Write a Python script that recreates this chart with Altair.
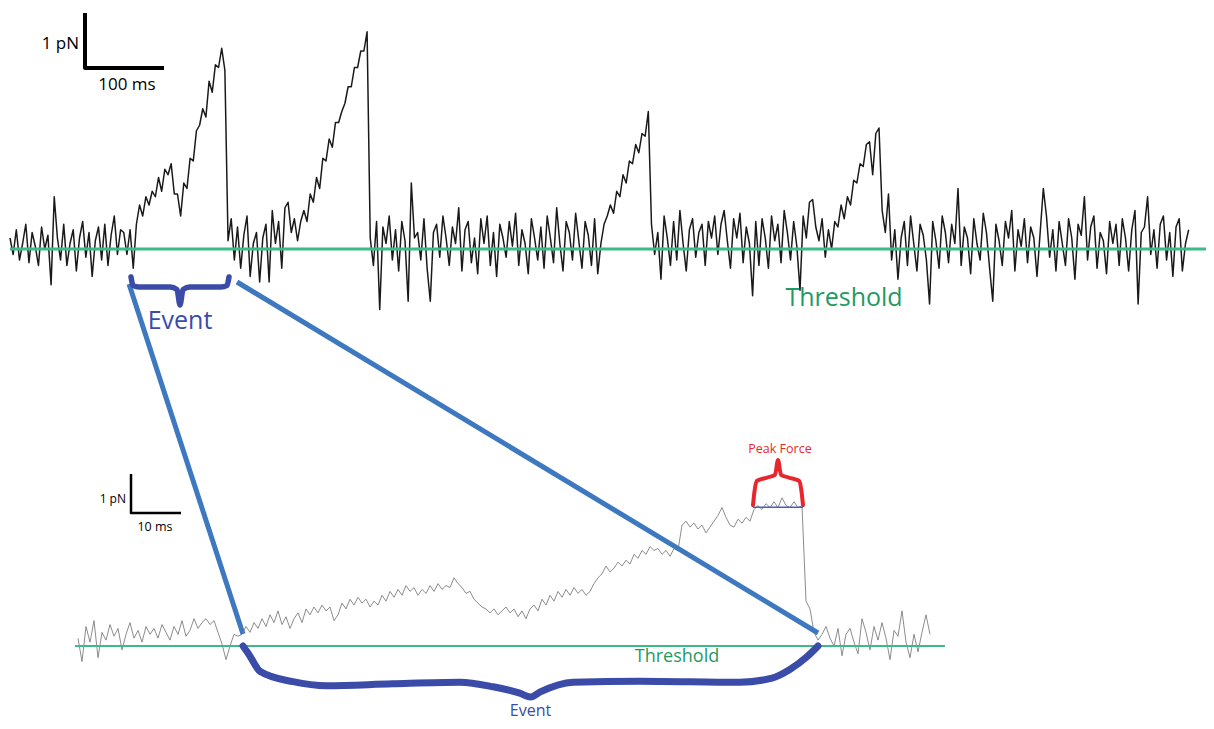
import altair as alt
import pandas as pd

# ---------------- data ----------------
# Full recording (top): force relative to threshold, sampled every 4 ms
TOP_DT_MS = 4.0
top_force_pN = [
    0.2, -0.1, 0.35, -0.2, 0.1, 0.45, -0.25, 0.3, 0.05, -0.3,
    0.4, 0.0, 0.25, -0.65, 0.95, 0.2, -0.2, 0.45, -0.3, 0.1,
    0.35, -0.4, 0.2, 0.5, -0.15, 0.3, -0.5, 0.15, 0.4, -0.2,
    0.45, -0.3, 0.25, 0.6, -0.1, 0.35, 0.3, -0.1, 0.35, -0.35,
    0.45, 0.8, 0.6, 0.95, 0.8, 1.05, 0.95, 1.3, 1.05, 1.45,
    1.35, 1.55, 1.0, 1.0, 0.6, 1.2, 1.1, 1.65, 1.6, 2.15,
    2.25, 2.55, 2.4, 3.05, 2.85, 3.35, 3.3, 3.65, 3.25, 0.15,
    0.55, -0.2, 0.4, -0.35, 0.25, 0.6, -0.5, 0.1, 0.3, -0.6,
    0.2, 0.45, -0.6, 0.7, 0.1, 0.5, -0.35, 0.75, 0.85, 0.3,
    0.55, 0.15, 0.5, 0.7, 0.5, 1.0, 0.85, 1.3, 1.1, 1.65,
    1.6, 2.0, 1.85, 2.3, 2.3, 2.5, 2.65, 2.95, 2.95, 3.3,
    3.3, 3.6, 3.6, 3.95, 0.2, -0.3, 0.5, -1.1, 0.4, 0.1,
    0.6, -0.2, 0.35, -0.4, 0.5, 0.15, -0.95, 1.2, 0.2, 0.3,
    -0.2, 0.55, -0.35, -0.95, 0.3, 0.45, -0.15, 0.6, 0.2, -0.3,
    0.4, 0.1, 0.75, -0.4, 0.35, 0.5, -0.25, 0.2, -0.45, 0.55,
    0.1, 0.6, -0.3, 0.3, -0.5, 0.45, 0.2, -0.15, 0.5, 0.05,
    0.65, -0.3, 0.35, 0.1, -0.45, 0.55, 0.2, -0.2, 0.4, -0.35,
    0.6, 0.2, -0.25, 0.75, 0.1, -0.4, 0.5, 0.3, -0.2, 0.65,
    0.15, -0.35, 0.5, 0.25, -0.3, 0.55, -0.45, 0.1, 0.45, 0.6,
    0.8, 0.65, 1.05, 0.95, 1.35, 1.2, 1.6, 1.55, 1.9, 1.75,
    2.1, 2.05, 2.5, 0.45, -0.1, 0.3, -0.55, 0.6, 0.2, -0.3,
    0.5, -0.2, 0.7, 0.1, -0.4, 0.35, 0.55, -0.15, 0.3, 0.45,
    -0.3, 0.5, 0.2, 0.6, -0.1, 0.45, 0.7, 0.15, -0.35, 0.55,
    0.2, 0.65, -0.25, 0.4, 0.1, -0.85, 0.5, -0.3, 0.55, 0.2,
    -0.35, 0.6, 0.15, 0.45, -0.25, 0.7, 0.3, -0.2, 0.5, 0.05,
    -0.75, 0.6, 0.2, 0.85, 0.9, 0.4, 0.15, 0.55, -0.15, 0.35,
    0.0, 0.5, 0.4, 0.8, 0.55, 0.95, 0.8, 1.25, 1.2, 1.55,
    1.5, 1.9, 1.95, 1.35, 2.1, 2.2, 0.7, 0.3, 1.0, -0.2,
    0.35, -0.55, 0.2, 0.5, -0.3, 0.6, 0.1, -0.4, 0.45, 0.25,
    -0.2, -1.0, 0.5, 0.15, -0.35, 0.6, 0.3, -0.25, 0.45, 0.1,
    1.1, -0.3, 0.4, 0.2, -0.45, 0.55, 0.1, -0.2, 0.65, 0.3,
    -0.35, -0.95, 0.45, 0.15, -0.3, 0.5, 0.2, 0.7, -0.4, 0.35,
    0.05, 0.55, -0.25, 0.4, 0.2, -0.5, 0.3, 1.1, 0.6, -0.15,
    0.35, -0.4, 0.5, 0.1, -0.3, 0.55, 0.2, -0.55, 0.45, 0.25,
    0.95, -0.2, 0.4, 0.6, -0.35, 0.3, 0.15, -0.45, 0.5, 0.1,
    0.45, -0.3, 0.55, 0.2, -0.4, 0.35, 0.7, -1.0, 0.3, 0.4,
    0.95, -0.1, 0.35, -0.35, 0.45, 0.6, -0.2, 0.3, -0.5, 0.4,
    0.55, -0.4, 0.1, 0.35,
]

# Zoomed event (bottom): force relative to threshold, sampled every 0.8 ms
BOT_DT_MS = 0.8
bottom_force_pN = [
    0.2, -0.4, 0.5, 0.1, 0.65, -0.3, 0.35, 0.15, 0.55, 0.25,
    0.45, -0.1, 0.3, 0.6, 0.2, 0.4, 0.1, 0.5, 0.3, 0.45,
    0.2, 0.55, 0.35, 0.15, 0.5, 0.3, 0.65, 0.25, 0.4, 0.7,
    0.45, 0.6, 0.7, 0.55, 0.65, 0.35, 0.05, -0.35, 0.0, 0.3,
    0.25, 0.3, 0.5, 0.35, 0.6, 0.45, 0.7, 0.5, 0.8, 0.6,
    0.9, 0.55, 0.75, 0.45, 0.7, 0.85, 0.6, 0.95, 0.8, 1.0,
    0.85, 1.05, 0.9, 1.0, 0.65, 0.8, 1.1, 0.95, 1.2, 1.05,
    1.25, 1.1, 1.2, 1.0, 1.15, 1.05, 1.3, 1.15, 1.4, 1.25,
    1.45, 1.3, 1.55, 1.4, 1.5, 1.3, 1.45, 1.35, 1.55, 1.4,
    1.6, 1.45, 1.55, 1.5, 1.75, 1.6, 1.5, 1.35, 1.4, 1.2,
    1.1, 1.0, 0.95, 0.85, 0.95, 0.8, 0.9, 1.0, 0.85, 0.95,
    0.75, 0.9, 0.7, 0.95, 1.05, 0.9, 1.2, 1.05, 1.3, 1.15,
    1.4, 1.25, 1.45, 1.3, 1.5, 1.35, 1.45, 1.3, 1.4, 1.6,
    1.75, 1.85, 2.05, 1.9, 2.0, 2.15, 2.05, 2.2, 2.1, 2.35,
    2.25, 2.45, 2.35, 2.55, 2.45, 2.5, 2.35, 2.45, 2.3, 2.5,
    2.45, 3.1, 3.2, 3.05, 3.15, 3.0, 3.1, 2.9, 3.05, 3.2,
    3.35, 3.55, 3.3, 3.1, 3.05, 3.25, 3.15, 3.3, 3.2, 3.5,
    3.6, 3.5, 3.65, 3.55, 3.7, 3.55, 3.8, 3.6, 3.55, 3.7,
    3.55, 3.6, 1.15, 0.95, 0.35, 0.15, 0.3, 0.5, 0.2, 0.0,
    0.45, -0.25, 0.3, 0.45, 0.1, -0.2, 0.7, 0.35, -0.1, 0.5,
    0.15, 0.6, 0.2, -0.35, 0.4, 0.25, 0.9, 0.1, -0.3, 0.3,
    -0.15, 0.35, 0.8, 0.3,
]

threshold_pN = 0.0
top_event_ms = [153.2, 277.2]        # event window in the full recording
bottom_event_ms = [33.0, 148.0]      # same event in the zoomed trace
peak_window_ms = [135.0, 145.0]      # plateau used for peak force
peak_force_pN = 3.56
top_scalebar = {"force": 1.0, "time": 100.0, "flabel": "1 pN", "tlabel": "100 ms"}
bottom_scalebar = {"force": 1.0, "time": 10.0, "flabel": "1 pN", "tlabel": "10 ms"}
label_threshold = "Threshold"
label_event = "Event"
label_peak = "Peak Force"

# brace shapes (fraction along the span, fraction of depth)
top_brace_u = [0, 0.02, 0.08, 0.40, 0.47, 0.5, 0.53, 0.60, 0.92, 0.98, 1.0]
top_brace_v = [0, 0.30, 0.36, 0.36, 0.45, 1.0, 0.45, 0.36, 0.36, 0.30, 0]
bot_brace_u = [0, 0.01, 0.03, 0.087, 0.146, 0.26, 0.377, 0.435, 0.48, 0.5,
               0.517, 0.574, 0.69, 0.864, 0.92, 0.951, 0.98, 1.0]
bot_brace_v = [0, 0.16, 0.5, 0.7, 0.78, 0.74, 0.71, 0.8, 0.92, 1.0,
               0.9, 0.71, 0.69, 0.71, 0.63, 0.46, 0.22, 0]
red_brace_u = [0, 0.03, 0.08, 0.28, 0.44, 0.5, 0.56, 0.72, 0.92, 0.97, 1.0]
red_brace_v = [0, 0.30, 0.53, 0.60, 0.66, 0.98, 0.66, 0.60, 0.53, 0.30, 0]

# ---------------- layout (figure coordinates) ----------------
TOP = dict(x0=10.0, y0=249.0, sx=0.79, sy=55.0)
BOT = dict(x0=78.0, y0=646.0, sx=5.0, sy=39.0)
FONT = "Open Sans"
BLACK = "#000000"
GREEN_LINE = "#3dba86"
GREEN_TEXT = "#1f9a62"
BRACE_BLUE = "#3a4ca8"
LINK_BLUE = "#3d78c0"
RED = "#e8262d"


def fx(p, t):
    return p["x0"] + t * p["sx"]


def fy(p, f):
    return p["y0"] - f * p["sy"]


def trace_df(p, dt, values):
    return pd.DataFrame({
        "fx": [fx(p, i * dt) for i in range(len(values))],
        "fy": [fy(p, v) for v in values],
        "k": list(range(len(values))),
    })


def pts_df(pts):
    return pd.DataFrame({"fx": [a for a, _ in pts], "fy": [b for _, b in pts],
                         "k": list(range(len(pts)))})


def brace_df(xl, xr, ybase, depth, us, vs, direction):
    return pts_df([(xl + u * (xr - xl), ybase + direction * v * depth)
                   for u, v in zip(us, vs)])


X = alt.X("fx:Q", scale=alt.Scale(domain=[8, 1206], nice=False, zero=False), axis=None)
Y = alt.Y("fy:Q", scale=alt.Scale(domain=[8, 721], reverse=True, nice=False, zero=False), axis=None)
ORDER = alt.Order("k:Q")


def poly(df, color, width, interpolate="linear", cap="butt", opacity=1.0):
    return alt.Chart(df).mark_line(
        color=color, strokeWidth=width, interpolate=interpolate,
        strokeCap=cap, strokeJoin="round", opacity=opacity
    ).encode(x=X, y=Y, order=ORDER)


def label(x, y, text, color, size, align="center", baseline="middle"):
    df = pd.DataFrame({"fx": [x], "fy": [y], "text": [text]})
    return alt.Chart(df).mark_text(
        color=color, fontSize=size, font=FONT, align=align, baseline=baseline
    ).encode(x=X, y=Y, text="text:N")


layers = []

# traces
layers.append(poly(trace_df(TOP, TOP_DT_MS, top_force_pN), BLACK, 1.5, opacity=0.9))
layers.append(poly(trace_df(BOT, BOT_DT_MS, bottom_force_pN), "#7f7f7f", 0.9))

# threshold lines
layers.append(poly(pts_df([(fx(TOP, 0), fy(TOP, threshold_pN)), (1206, fy(TOP, threshold_pN))]),
                   GREEN_LINE, 3))
layers.append(poly(pts_df([(fx(BOT, -0.6), fy(BOT, threshold_pN)), (fx(BOT, 173.4), fy(BOT, threshold_pN))]),
                   GREEN_LINE, 2))

# connector lines from the top event to the zoomed event
t0x, t1x = fx(TOP, top_event_ms[0]), fx(TOP, top_event_ms[1])
b0x, b1x = fx(BOT, bottom_event_ms[0]), fx(BOT, bottom_event_ms[1])
by = fy(BOT, threshold_pN)
layers.append(poly(pts_df([(t0x - 2, 284), (b0x, by - 12)]), LINK_BLUE, 5))
layers.append(poly(pts_df([(t1x + 8, 282), (b1x, by - 13)]), LINK_BLUE, 5))

# braces
layers.append(poly(brace_df(t0x, t1x, fy(TOP, threshold_pN) + 28, 28, top_brace_u, top_brace_v, 1),
                   BRACE_BLUE, 5.5, "monotone", "round"))
layers.append(poly(brace_df(b0x, b1x, by, 51, bot_brace_u, bot_brace_v, 1),
                   BRACE_BLUE, 7, "monotone", "round"))
p0x, p1x = fx(BOT, peak_window_ms[0]), fx(BOT, peak_window_ms[1])
py = fy(BOT, peak_force_pN)
layers.append(poly(brace_df(p0x, p1x, py - 2, 46, red_brace_u, red_brace_v, -1),
                   RED, 4, "monotone", "round"))
layers.append(poly(pts_df([(p0x, py), (p1x, py)]), "#4a5fc0", 1.5))

# scale bars
cx, cy = 85.0, 68.0
layers.append(poly(pts_df([(cx, cy - top_scalebar["force"] * TOP["sy"]), (cx, cy),
                           (cx + top_scalebar["time"] * TOP["sx"], cy)]), BLACK, 4))
dx, dy = 131.0, 513.0
layers.append(poly(pts_df([(dx, dy - bottom_scalebar["force"] * BOT["sy"]), (dx, dy),
                           (dx + bottom_scalebar["time"] * BOT["sx"], dy)]), BLACK, 2.5))

# labels
layers.append(label(cx - 6, 44, top_scalebar["flabel"], BLACK, 17, align="right"))
layers.append(label(cx + 42, 85, top_scalebar["tlabel"], BLACK, 17))
layers.append(label(dx - 5, 499, bottom_scalebar["flabel"], BLACK, 12, align="right"))
layers.append(label(dx + 24, 527, bottom_scalebar["tlabel"], BLACK, 12.5))
layers.append(label(844, 298, label_threshold, GREEN_TEXT, 25))
layers.append(label((t0x + t1x) / 2, 321, label_event, BRACE_BLUE, 25))
layers.append(label(677, 657, label_threshold, GREEN_TEXT, 18))
layers.append(label((b0x + b1x) / 2, 711, label_event, BRACE_BLUE, 16))
layers.append(label((p0x + p1x) / 2 + 2, 449, label_peak, RED, 12.5))

chart = alt.layer(*layers).properties(
    width=1198, height=713, padding=0,
    autosize=alt.AutoSizeParams(type="none"),
    background="white",
).configure_view(stroke=None)

chart.save("out.html", embed_options={"renderer": "svg", "actions": False})
